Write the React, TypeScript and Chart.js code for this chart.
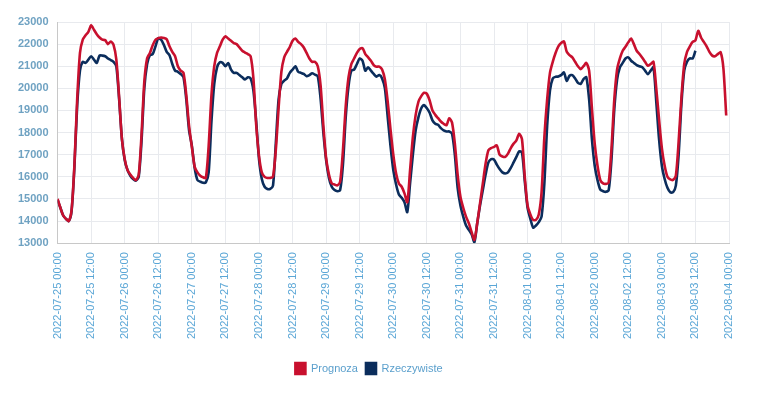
import React, { useEffect, useRef } from 'react';
import { Chart, registerables } from 'chart.js';

Chart.register(...registerables);

// Hourly series, starting 2022-07-25 00:00
const startDate = Date.UTC(2022, 6, 25, 0, 0);
const seriesNames = ['Prognoza', 'Rzeczywiste'];
const seriesColors = ['#c8102e', '#0b2d5c'];

const forecast = [
  15000, 14600, 14250, 14100, 14000, 14500, 16500, 19500, 21600, 22200, 22400, 22550, 22850, 22650, 22450, 22300, 22200, 22180, 22000, 22120, 21970, 21300, 19600, 17700,
  16800, 16300, 16100, 15950, 15850, 16100, 17900, 20300, 21360, 21600, 21950, 22200, 22270, 22300, 22280, 22220, 21900, 21650, 21450, 21000, 20800, 20700, 19700, 18300,
  17350, 16450, 16200, 16050, 15980, 15950, 17400, 19700, 21000, 21600, 21900, 22200, 22350, 22250, 22150, 22050, 22000, 21850, 21700, 21620, 21550, 21450, 20450, 18330,
  16950, 16200, 16000, 15950, 15950, 16000, 17200, 19100, 20750, 21400, 21650, 21870, 22150, 22250, 22100, 22000, 21850, 21600, 21350, 21200, 21200, 21000, 20150, 18330,
  16830, 16100, 15700, 15650, 15610, 15780, 17200, 19200, 20500, 21100, 21350, 21600, 21780, 21820, 21550, 21400, 21250, 21050, 20980, 20980, 20850, 20400, 19400, 18150,
  17000, 16150, 15700, 15550, 15250, 14850, 16300, 17800, 18800, 19400, 19650, 19800, 19750, 19450, 19000, 18800, 18650, 18500, 18400, 18330, 18650, 18450, 17500, 16100,
  15100, 14600, 14200, 13900, 13500, 13150, 13900, 14800, 15700, 16600, 17200, 17300, 17350, 17420, 17000, 16920, 16900, 17050, 17300, 17500, 17650, 17950, 17700, 16000,
  14700, 14300, 14050, 14050, 14300, 15300, 17800, 19500, 20700, 21200, 21600, 21900, 22050, 22120, 21650, 21500, 21400, 21200, 21000, 20870, 21000, 21150, 20800, 19100,
  17500, 16500, 15850, 15700, 15680, 15750, 17300, 19500, 20850, 21350, 21700, 21880, 22080, 22250, 22000, 21700, 21550, 21380, 21200, 21020, 21100, 21200, 20000, 18600,
  17300, 16500, 16000, 15880, 15860, 16050, 17600, 19600, 21100, 21650, 21900, 22100, 22170, 22600, 22300, 22100, 21900, 21650, 21480, 21450, 21550, 21630, 20900, 18770,
];

const actual = [
  14950, 14600, 14250, 14100, 14000, 14450, 16400, 19200, 20800, 21200, 21150, 21300, 21450, 21300, 21150, 21480, 21480, 21450, 21350, 21280, 21200, 21000, 19500, 17700,
  16750, 16300, 16050, 15900, 15830, 16000, 17600, 20000, 21100, 21500, 21550, 21900, 22270, 22200, 21960, 21650, 21500, 21100, 20800, 20750, 20650, 20500, 19500, 18100,
  17400, 16400, 15850, 15780, 15730, 15750, 16200, 18500, 20200, 20950, 21180, 21150, 21000, 21140, 20850, 20700, 20700, 20600, 20500, 20400, 20500, 20450, 19900, 18500,
  16800, 15900, 15550, 15450, 15450, 15600, 17500, 19500, 20200, 20350, 20450, 20700, 20850, 21000, 20750, 20700, 20650, 20550, 20600, 20680, 20620, 20550, 19550, 18000,
  16750, 15950, 15550, 15400, 15350, 15400, 16550, 18700, 20100, 20800, 20850, 21100, 21350, 21250, 20800, 20950, 20800, 20650, 20530, 20600, 20450, 20000, 18700, 17400,
  16300, 15650, 15200, 15050, 14850, 14400, 15700, 17000, 18100, 18700, 19100, 19240, 19100, 18900, 18550, 18400, 18350, 18200, 18100, 18050, 18050, 17950, 17000, 15500,
  14700, 14200, 13800, 13600, 13400, 13050, 13900, 14700, 15400, 16100, 16650, 16800, 16780, 16550, 16350, 16200, 16150, 16200, 16400, 16650, 16900, 17150, 17100, 15800,
  14600, 14100, 13700, 13800, 13950, 14200, 15700, 18300, 19900, 20450, 20520, 20540, 20600, 20720, 20340, 20570, 20600, 20450, 20250, 20200, 20420, 20500, 19500, 17700,
  16500, 15850, 15420, 15350, 15320, 15400, 16800, 19050, 20400, 20950, 21150, 21350, 21400, 21250, 21150, 21050, 21000, 20950, 20800, 20640, 20800, 20950, 19400, 17700,
  16500, 15900, 15500, 15300, 15300, 15600, 17000, 19300, 20800, 21200, 21360, 21350, 21700,
];

const xMinHour = 0;
const xMaxHour = 240;
const xStepHours = 12;
const yMin = 13000;
const yMax = 23000;
const yStep = 1000;

function formatHour(h: number): string {
  const d = new Date(startDate + h * 3600000);
  const p = (n: number) => String(n).padStart(2, '0');
  return `${d.getUTCFullYear()}-${p(d.getUTCMonth() + 1)}-${p(d.getUTCDate())} ${p(d.getUTCHours())}:${p(d.getUTCMinutes())}`;
}

export default function App() {
  const ref = useRef<HTMLCanvasElement | null>(null);

  useEffect(() => {
    if (!ref.current) return;
    const toPoints = (arr: number[]) => arr.map((v, i) => ({ x: i, y: v }));
    const chart = new Chart(ref.current, {
      type: 'line',
      data: {
        datasets: [
          {
            label: seriesNames[0],
            data: toPoints(forecast),
            borderColor: seriesColors[0],
            backgroundColor: seriesColors[0],
            borderWidth: 2.6,
            pointRadius: 0,
            tension: 0.25,
            fill: false,
          },
          {
            label: seriesNames[1],
            data: toPoints(actual),
            borderColor: seriesColors[1],
            backgroundColor: seriesColors[1],
            borderWidth: 2.6,
            pointRadius: 0,
            tension: 0.25,
            fill: false,
          },
        ],
      },
      options: {
        animation: false,
        responsive: true,
        maintainAspectRatio: false,
        layout: { padding: { top: 22, left: 9, right: 31, bottom: 10 } },
        plugins: {
          tooltip: { enabled: false },
          legend: {
            position: 'bottom',
            labels: {
              boxWidth: 10,
              boxHeight: 11,
              padding: 8,
              color: '#5a9fcc',
              font: { family: "'Liberation Sans', Arial, sans-serif", size: 11 },
            },
          },
        },
        scales: {
          x: {
            type: 'linear',
            min: xMinHour,
            max: xMaxHour,
            grid: { color: '#e8eaee', drawTicks: false },
            border: { color: '#c8c8c8' },
            afterFit: (scale: any) => {
              scale.height += 7;
            },
            ticks: {
              stepSize: xStepHours,
              autoSkip: false,
              maxRotation: 90,
              minRotation: 90,
              padding: 9,
              color: '#5aa6d6',
              font: { family: "'Liberation Sans', Arial, sans-serif", size: 11 },
              callback: (v: any) => formatHour(Number(v)),
            },
          },
          y: {
            min: yMin,
            max: yMax,
            grid: { color: '#e8eaee', drawTicks: false },
            border: { color: '#c8c8c8' },
            ticks: {
              stepSize: yStep,
              padding: 9,
              color: '#6fa2c2',
              font: { family: "'Liberation Sans', Arial, sans-serif", size: 11, weight: 'bold' },
              callback: (v: any) => String(v),
            },
          },
        },
      },
    });
    return () => chart.destroy();
  }, []);

  return (
    <div style={{ position: 'fixed', left: 0, top: 0, width: 760, height: 394, background: '#fff' }}>
      <canvas ref={ref} />
    </div>
  );
}
